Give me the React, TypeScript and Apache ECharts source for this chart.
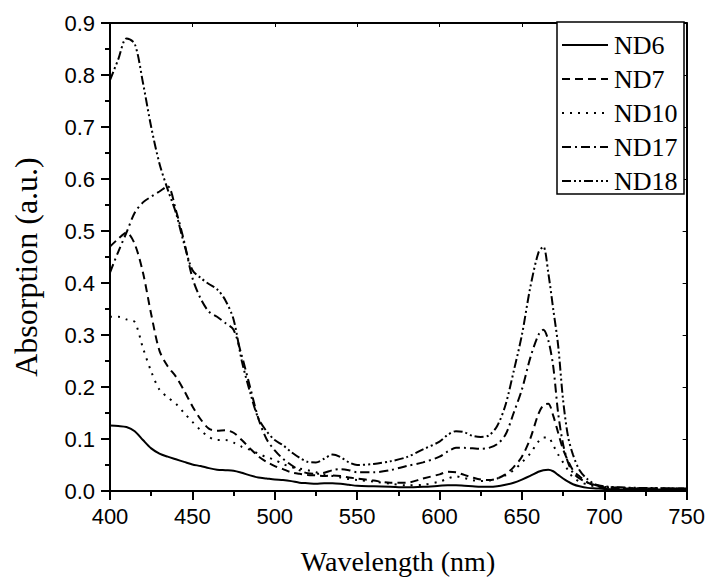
import React, { useEffect, useRef } from "react";
import * as echarts from "echarts";

const wavelengths = [
  400, 405, 410, 415, 420, 425, 430, 435, 440, 445, 450, 455, 460, 465, 470, 475,
  480, 485, 490, 495, 500, 505, 510, 515, 520, 525, 530, 535, 540, 545, 550, 560,
  570, 580, 590, 600, 605, 610, 615, 620, 625, 630, 635, 640, 645, 650, 655, 660,
  663, 666, 669, 672, 675, 678, 681, 685, 690, 695, 700, 710, 720, 730, 740, 750,
];

const nd6 = [
  0.126, 0.125, 0.123, 0.115, 0.098, 0.082, 0.072, 0.066, 0.061, 0.056, 0.051, 0.048, 0.044, 0.041, 0.04, 0.039,
  0.035, 0.03, 0.026, 0.024, 0.022, 0.021, 0.019, 0.016, 0.015, 0.014, 0.015, 0.015, 0.014, 0.012, 0.01, 0.009,
  0.008, 0.007, 0.008, 0.01, 0.011, 0.011, 0.01, 0.009, 0.008, 0.008, 0.009, 0.012, 0.016, 0.022, 0.029, 0.037,
  0.04, 0.041, 0.038, 0.031, 0.024, 0.018, 0.013, 0.009, 0.006, 0.005, 0.004, 0.003, 0.003, 0.003, 0.003, 0.003,
];

const nd7 = [
  0.47, 0.485, 0.497, 0.475, 0.42, 0.34, 0.27, 0.24, 0.22, 0.193, 0.163, 0.138, 0.12, 0.116, 0.117, 0.112,
  0.098, 0.082, 0.067, 0.056, 0.048, 0.042, 0.036, 0.033, 0.031, 0.03, 0.029, 0.03, 0.029, 0.026, 0.024, 0.02,
  0.016, 0.016, 0.024, 0.032, 0.037, 0.036, 0.031, 0.026, 0.022, 0.021, 0.024, 0.032, 0.046, 0.066, 0.1, 0.148,
  0.165, 0.168, 0.145, 0.112, 0.08, 0.058, 0.04, 0.028, 0.016, 0.01, 0.007, 0.005, 0.005, 0.005, 0.005, 0.005,
];

const nd10 = [
  0.335, 0.335, 0.33, 0.325, 0.275, 0.23, 0.195, 0.18, 0.168, 0.15, 0.133, 0.117, 0.104, 0.098, 0.098, 0.093,
  0.085, 0.079, 0.072, 0.065, 0.06, 0.052, 0.046, 0.043, 0.04, 0.036, 0.032, 0.029, 0.026, 0.023, 0.021, 0.018,
  0.014, 0.011, 0.012, 0.018, 0.024, 0.028, 0.025, 0.021, 0.019, 0.02, 0.024, 0.03, 0.04, 0.055, 0.072, 0.095,
  0.103, 0.103, 0.088, 0.07, 0.055, 0.04, 0.026, 0.018, 0.012, 0.009, 0.007, 0.006, 0.005, 0.005, 0.005, 0.005,
];

const nd17 = [
  0.42, 0.46, 0.497, 0.535, 0.555, 0.566, 0.576, 0.586, 0.54, 0.48, 0.41, 0.37, 0.345, 0.335, 0.323, 0.31,
  0.26, 0.2, 0.14, 0.1, 0.078, 0.062, 0.05, 0.04, 0.034, 0.033, 0.035, 0.04, 0.042, 0.04, 0.036, 0.036,
  0.04, 0.048, 0.055, 0.066, 0.076, 0.083, 0.083, 0.082, 0.081, 0.083, 0.09, 0.108, 0.15, 0.195, 0.255, 0.3,
  0.31, 0.29, 0.24, 0.15, 0.09, 0.055, 0.035, 0.024, 0.016, 0.011, 0.008, 0.006, 0.005, 0.005, 0.005, 0.005,
];

const nd18 = [
  0.79, 0.83, 0.87, 0.86, 0.785, 0.7, 0.63, 0.58, 0.535, 0.475, 0.425, 0.41, 0.398, 0.388, 0.367, 0.33,
  0.25, 0.19, 0.14, 0.115, 0.098, 0.088, 0.075, 0.064, 0.056, 0.055, 0.062, 0.07, 0.065, 0.055, 0.05, 0.052,
  0.057, 0.065, 0.08, 0.095, 0.108, 0.115, 0.113, 0.106, 0.104, 0.107, 0.125, 0.165, 0.23, 0.3, 0.39, 0.458,
  0.47, 0.42, 0.35, 0.28, 0.175, 0.105, 0.07, 0.04, 0.022, 0.012, 0.009, 0.007, 0.006, 0.006, 0.005, 0.005,
];

const seriesNames = ["ND6", "ND7", "ND10", "ND17", "ND18"];
const seriesValues = [nd6, nd7, nd10, nd17, nd18];
const dashPatterns: (string | number[])[] = ["solid", [8, 5], [2, 6], [9, 4, 2, 4], [9, 3, 2, 3, 2, 3]];

const xTitle = "Wavelength (nm)";
const yTitle = "Absorption (a.u.)";

const SERIF = "'Liberation Serif', 'Times New Roman', Times, serif";
const SANS = "'Liberation Sans', Arial, Helvetica, sans-serif";

export default function App() {
  const ref = useRef<HTMLDivElement>(null);
  useEffect(() => {
    document.body.style.margin = "0";
    const chart = echarts.init(ref.current!, null, { renderer: "svg" });
    const axisLine = { lineStyle: { color: "#000", width: 2 } };
    const labelFont = { color: "#000", fontFamily: SANS, fontSize: 22 };
    const legendItems: any[] = [];
    seriesNames.forEach((name, i) => {
      const y = 45 + i * 34;
      const dash = dashPatterns[i];
      legendItems.push({
        type: "line",
        z: 20,
        shape: { x1: 562, y1: y, x2: 608, y2: y },
        style: { stroke: "#000", lineWidth: 2, lineDash: dash === "solid" ? null : dash },
      });
      legendItems.push({
        type: "text",
        z: 20,
        x: 614,
        y,
        style: {
          text: name,
          fill: "#000",
          fontFamily: SERIF,
          fontSize: 26,
          align: "left",
          verticalAlign: "middle",
        },
      });
    });
    chart.setOption({
      animation: false,
      backgroundColor: "#fff",
      grid: { left: 110, right: 19, top: 23, bottom: 90, containLabel: false },
      xAxis: [
        {
          type: "value",
          min: 400,
          max: 750,
          interval: 50,
          axisLine: { ...axisLine, onZero: false },
          axisTick: { show: true, inside: false, length: 9, lineStyle: { color: "#000", width: 2 } },
          minorTick: { show: true, splitNumber: 2, length: 5, lineStyle: { color: "#000", width: 2 } },
          axisLabel: { ...labelFont, margin: 14 },
          splitLine: { show: false },
        },
        {
          type: "value",
          position: "top",
          min: 400,
          max: 750,
          interval: 50,
          axisLine: { ...axisLine, onZero: false },
          axisTick: { show: true, inside: true, length: 4, lineStyle: { color: "#000", width: 1 } },
          axisLabel: { show: false },
          splitLine: { show: false },
        },
      ],
      yAxis: [
        {
          type: "value",
          min: 0,
          max: 0.9,
          interval: 0.1,
          axisLine: { ...axisLine, onZero: false },
          axisTick: { show: true, inside: false, length: 9, lineStyle: { color: "#000", width: 2 } },
          minorTick: { show: true, splitNumber: 2, length: 5, lineStyle: { color: "#000", width: 2 } },
          axisLabel: { ...labelFont, margin: 15, formatter: (v: number) => v.toFixed(1) },
          splitLine: { show: false },
        },
        {
          type: "value",
          position: "right",
          min: 0,
          max: 0.9,
          interval: 0.1,
          axisLine: { ...axisLine, onZero: false },
          axisTick: { show: true, inside: true, length: 4, lineStyle: { color: "#000", width: 1 } },
          axisLabel: { show: false },
          splitLine: { show: false },
        },
      ],
      series: seriesNames.map((name, i) => ({
        name,
        type: "line",
        xAxisIndex: 0,
        yAxisIndex: 0,
        showSymbol: false,
        smooth: 0.3,
        data: wavelengths.map((w, k) => [w, seriesValues[i][k]]),
        lineStyle: { color: "#000", width: 2, type: dashPatterns[i] },
      })),
      graphic: [
        {
          type: "rect",
          z: 10,
          shape: { x: 557, y: 22, width: 127, height: 172 },
          style: { fill: "#fff", stroke: "#000", lineWidth: 1.5 },
        },
        ...legendItems,
        {
          type: "text",
          x: 398,
          y: 561,
          style: {
            text: xTitle,
            fill: "#000",
            fontFamily: SERIF,
            fontSize: 28,
            align: "center",
            verticalAlign: "middle",
          },
        },
        {
          type: "text",
          x: 26,
          y: 267,
          rotation: Math.PI / 2,
          style: {
            text: yTitle,
            fill: "#000",
            fontFamily: SERIF,
            fontSize: 32,
            align: "center",
            verticalAlign: "middle",
          },
        },
      ],
    });
    return () => chart.dispose();
  }, []);
  return <div ref={ref} style={{ width: 708, height: 581 }} />;
}
